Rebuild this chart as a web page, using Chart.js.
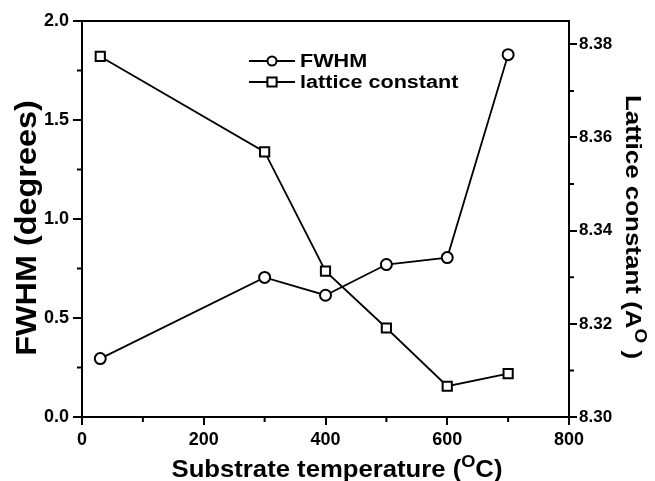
<!DOCTYPE html>
<html lang="en">
<head>
    <meta charset="UTF-8">
    <title>FWHM and lattice constant vs substrate temperature</title>
    <script src="https://cdn.jsdelivr.net/npm/chart.js"></script>
    <style>
        body { margin: 0; background: #fff; }
    </style>
</head>
<body>

    <canvas id="tempChart" width="655" height="481"></canvas>

    <script>
        // data
        const temps = [30, 300, 400, 500, 600, 700];
        const fwhm = [0.295, 0.705, 0.615, 0.77, 0.805, 1.83];
        const lattice = [8.3774, 8.3569, 8.3313, 8.3191, 8.3066, 8.3093];

        // tick values
        const xTicks = [0, 200, 400, 600, 800];
        const xMinor = [100, 300, 500, 700];
        const fwhmTicks = [0, 0.5, 1.0, 1.5, 2.0];
        const fwhmMinor = [0.25, 0.75, 1.25, 1.75];
        const latticeTicks = [8.30, 8.32, 8.34, 8.36, 8.38];
        const latticeMinor = [8.31, 8.33, 8.35, 8.37];

        const FONT = '"Liberation Sans", Arial, sans-serif';

        // draws a title made of segments, some superscript, centred on (cx, baseline cy)
        function drawTitle(ctx, segs, cx, cy, angle, size, sx) {
            ctx.save();
            ctx.translate(cx, cy);
            ctx.rotate(angle);
            ctx.scale(sx, 1);
            const big = 'bold ' + size + 'px ' + FONT;
            const small = 'bold ' + Math.round(size * 0.72) + 'px ' + FONT;
            let w = 0;
            segs.forEach(s => {
                ctx.font = s.sup ? small : big;
                s.w = ctx.measureText(s.t).width;
                w += s.w;
            });
            let x = -w / 2;
            ctx.fillStyle = '#000';
            ctx.textBaseline = 'alphabetic';
            segs.forEach(s => {
                ctx.font = s.sup ? small : big;
                ctx.fillText(s.t, x, s.sup ? -size * 0.42 : 0);
                x += s.w;
            });
            ctx.restore();
        }

        const decorPlugin = {
            id: 'decor',
            afterDraw(chart) {
                const ctx = chart.ctx;
                const a = chart.chartArea;
                const sx = chart.scales.x, sy = chart.scales.y, sy2 = chart.scales.y2;

                ctx.save();
                ctx.strokeStyle = '#000';
                ctx.lineWidth = 2;
                // top frame line
                ctx.beginPath();
                ctx.moveTo(a.left - 1, a.top);
                ctx.lineTo(a.right + 1, a.top);
                ctx.stroke();
                // minor ticks
                ctx.beginPath();
                xMinor.forEach(v => {
                    const p = sx.getPixelForValue(v);
                    ctx.moveTo(p, a.bottom);
                    ctx.lineTo(p, a.bottom + 5);
                });
                fwhmMinor.forEach(v => {
                    const p = sy.getPixelForValue(v);
                    ctx.moveTo(a.left, p);
                    ctx.lineTo(a.left - 5, p);
                });
                latticeMinor.forEach(v => {
                    const p = sy2.getPixelForValue(v);
                    ctx.moveTo(a.right, p);
                    ctx.lineTo(a.right + 5, p);
                });
                ctx.stroke();

                // legend
                const rows = [
                    { label: 'FWHM', style: 'circle', r: 4.5, y: 61 },
                    { label: 'lattice constant', style: 'rect', r: 6.5, y: 82 }
                ];
                rows.forEach(row => {
                    ctx.lineWidth = 1.8;
                    ctx.beginPath();
                    ctx.moveTo(249, row.y);
                    ctx.lineTo(295, row.y);
                    ctx.stroke();
                    ctx.fillStyle = '#fff';
                    ctx.lineWidth = 2;
                    Chart.helpers.drawPoint(ctx, { pointStyle: row.style, radius: row.r, borderWidth: 2, rotation: 0 }, 272, row.y);
                    ctx.save();
                    ctx.translate(300, row.y + 6);
                    ctx.scale(1.2, 1);
                    ctx.fillStyle = '#000';
                    ctx.font = 'bold 18px ' + FONT;
                    ctx.textBaseline = 'alphabetic';
                    ctx.fillText(row.label, 0, 0);
                    ctx.restore();
                });
                ctx.restore();

                // axis titles
                drawTitle(ctx, [{ t: 'Substrate temperature (' }, { t: 'O', sup: true }, { t: 'C)' }],
                    337, 477, 0, 24, 1.07);
                drawTitle(ctx, [{ t: 'FWHM (degrees)' }], 36, 228, -Math.PI / 2, 30, 1.08);
                drawTitle(ctx, [{ t: 'Lattice constant (A' }, { t: 'O', sup: true }, { t: ' )' }],
                    626, 227, Math.PI / 2, 22, 1.18);
            }
        };

        const tickFont = { family: FONT, size: 18, weight: 'bold' };

        new Chart(document.getElementById('tempChart').getContext('2d'), {
            type: 'line',
            data: {
                datasets: [
                    {
                        label: 'FWHM',
                        data: temps.map((t, i) => ({ x: t, y: fwhm[i] })),
                        yAxisID: 'y',
                        borderColor: '#000',
                        borderWidth: 1.8,
                        pointStyle: 'circle',
                        pointRadius: 5.5,
                        pointBorderWidth: 2,
                        pointBackgroundColor: '#fff',
                        pointBorderColor: '#000',
                        tension: 0,
                        clip: false
                    },
                    {
                        label: 'lattice constant',
                        data: temps.map((t, i) => ({ x: t, y: lattice[i] })),
                        yAxisID: 'y2',
                        borderColor: '#000',
                        borderWidth: 1.8,
                        pointStyle: 'rect',
                        pointRadius: 6.5,
                        pointBorderWidth: 2,
                        pointBackgroundColor: '#fff',
                        pointBorderColor: '#000',
                        tension: 0,
                        clip: false
                    }
                ]
            },
            options: {
                responsive: false,
                animation: false,
                layout: { padding: { top: 21, left: 0, right: 0, bottom: 0 } },
                plugins: {
                    legend: { display: false },
                    tooltip: { enabled: false }
                },
                scales: {
                    x: {
                        type: 'linear',
                        position: 'bottom',
                        min: 0,
                        max: 800,
                        afterBuildTicks: s => { s.ticks = xTicks.map(v => ({ value: v })); },
                        afterFit: s => { s.height = 64; },
                        ticks: { font: tickFont, color: '#000', padding: 4, maxRotation: 0, callback: v => String(v) },
                        grid: { drawOnChartArea: false, tickLength: 8, lineWidth: 2, color: '#000' },
                        border: { color: '#000', width: 2 }
                    },
                    y: {
                        type: 'linear',
                        position: 'left',
                        min: 0,
                        max: 2,
                        afterBuildTicks: s => { s.ticks = fwhmTicks.map(v => ({ value: v })); },
                        afterFit: s => { s.width = 82; },
                        ticks: { font: tickFont, color: '#000', padding: 4, callback: v => v.toFixed(1) },
                        grid: { drawOnChartArea: false, tickLength: 9, lineWidth: 2, color: '#000' },
                        border: { color: '#000', width: 2 }
                    },
                    y2: {
                        type: 'linear',
                        position: 'right',
                        min: 8.30,
                        max: 8.385,
                        afterBuildTicks: s => { s.ticks = latticeTicks.map(v => ({ value: v })); },
                        afterFit: s => { s.width = 86; },
                        ticks: { font: { family: FONT, size: 17, weight: 'bold' }, color: '#000', padding: 2, callback: v => v.toFixed(2) },
                        grid: { drawOnChartArea: false, tickLength: 8, lineWidth: 2, color: '#000' },
                        border: { color: '#000', width: 2 }
                    }
                }
            },
            plugins: [decorPlugin]
        });
    </script>

</body>
</html>
